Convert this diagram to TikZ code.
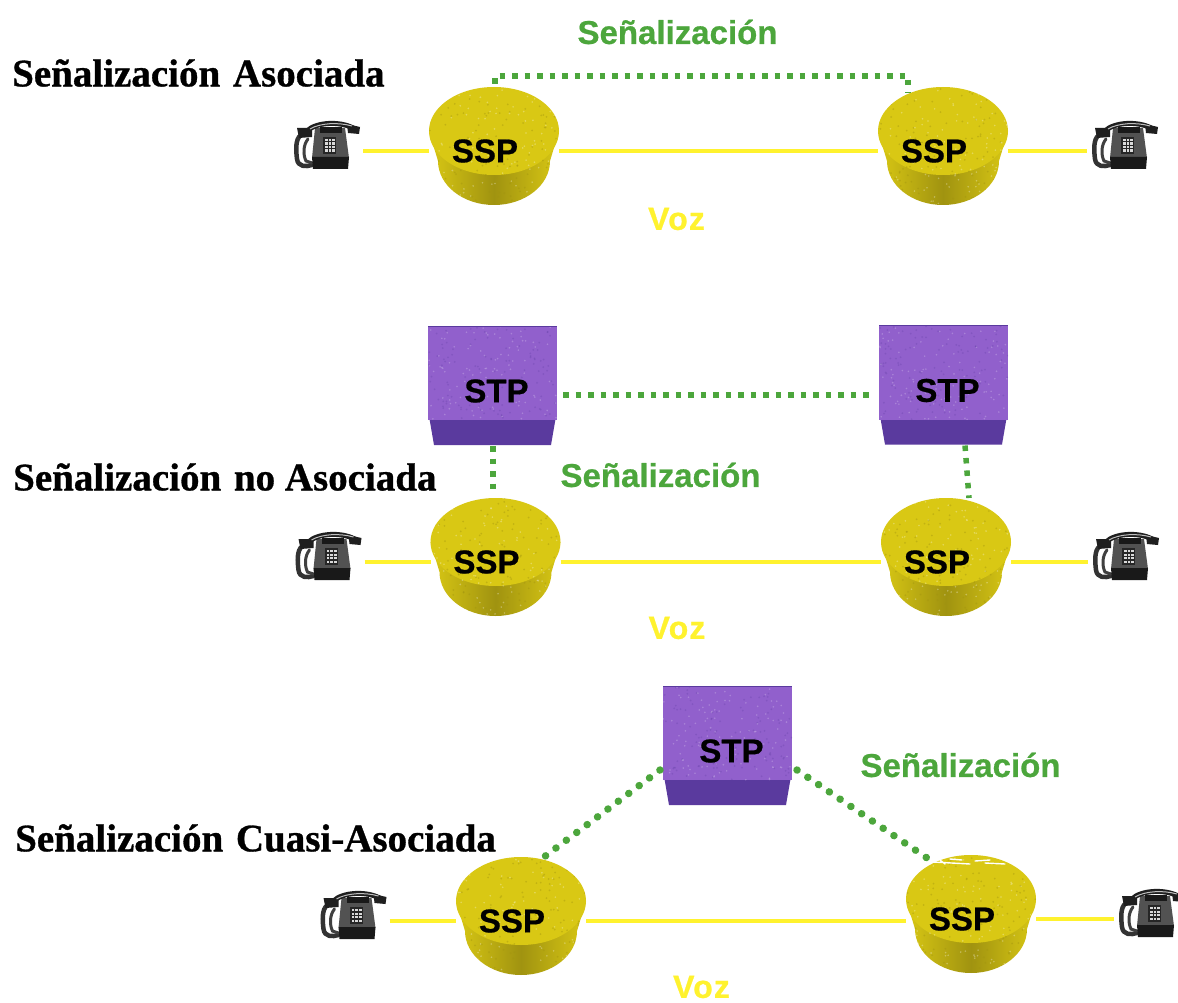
\documentclass[tikz,border=0pt]{standalone}
\usepackage{fontspec}
\setmainfont{Liberation Serif}[BoldFeatures={FakeBold=0.8}]
\setsansfont{Liberation Sans}[BoldFeatures={FakeBold=0.6}]
\newfontfamily\vozfont{Liberation Sans}[LetterSpace=3.5,BoldFeatures={FakeBold=0.8}]
\usetikzlibrary{calc}
\definecolor{sigGreen}{HTML}{4CA63C}
\definecolor{voiceY}{HTML}{FFF22E}
\definecolor{sspTop}{HTML}{D9C814}
\definecolor{sspDark}{HTML}{A09310}
\definecolor{stpFace}{HTML}{9160CC}
\definecolor{stpLow}{HTML}{5A3A9E}
\tikzset{
  x=1pt,y=-1pt,
  devtext/.style={font=\sffamily\bfseries\fontsize{33}{33}\selectfont,text=black,inner sep=0pt},
  title/.style={font=\rmfamily\bfseries\fontsize{39}{39}\selectfont,text=black,inner sep=0pt,anchor=west},
  siglabel/.style={font=\sffamily\bfseries\fontsize{33}{33}\selectfont,text=sigGreen,inner sep=0pt},
  voizlabel/.style={font=\vozfont\bfseries\fontsize{32}{32}\selectfont,text=voiceY,inner sep=0pt},
  voice/.style={draw=voiceY,line width=4pt},
  sig/.style={draw=sigGreen,line width=5.5pt,dash pattern=on 5.5pt off 7pt},
  sigdiag/.style={draw=sigGreen,line width=7.5pt,line cap=round,dash pattern=on 0.1pt off 12.9pt},
  anchorbox/.style={inner sep=0pt,outer sep=0pt,draw=none}
}
% name, x, line-y
\newcommand{\sspunit}[3]{%
  \begin{scope}[shift={(#2,#3)}]
    \path[left color=sspTop,right color=sspTop,middle color=sspDark]
      (-65,-20) -- (-56,10) arc[x radius=56,y radius=44,start angle=180,end angle=0] -- (65,-20) -- cycle;
    \fill[sspTop] (0,-20) ellipse[x radius=65,y radius=44];
    \begin{scope}
      \clip (-65,-20) -- (-56,10) arc[x radius=56,y radius=44,start angle=180,end angle=0] -- (65,-20) arc[x radius=65,y radius=44,start angle=0,end angle=-180] -- cycle;
      \foreach \k in {1,...,110}{
        \pgfmathsetmacro{\dx}{rnd*130-65}\pgfmathsetmacro{\dy}{rnd*118-64}
        \fill[white,opacity=0.3] (\dx,\dy) circle[radius=0.9];
        \pgfmathsetmacro{\ex}{rnd*130-65}\pgfmathsetmacro{\ey}{rnd*118-64}
        \fill[sspDark,opacity=0.4] (\ex,\ey) circle[radius=1];
      }
    \end{scope}
  \end{scope}
  \node[anchorbox,minimum width=130pt,minimum height=108pt] (#1) at (#2,#3) {};
  \node[devtext] (#1-t) at ($(#2,#3)+(-9,0)$) {SSP};
}
% name, x, center-y
\newcommand{\stpunit}[3]{%
  \begin{scope}[shift={(#2,#3)}]
    \fill[stpLow] (-63,24) -- (63,24) -- (58.5,50) -- (-58.5,50) -- cycle;
    \fill[stpFace] (-64.5,-69) rectangle (64.5,25);
    \begin{scope}
      \clip (-64.5,-69) rectangle (64.5,25);
      \foreach \k in {1,...,110}{
        \pgfmathsetmacro{\dx}{rnd*129-64.5}\pgfmathsetmacro{\dy}{rnd*94-69}
        \fill[white,opacity=0.22] (\dx,\dy) circle[radius=0.9];
        \pgfmathsetmacro{\ex}{rnd*129-64.5}\pgfmathsetmacro{\ey}{rnd*94-69}
        \fill[stpLow,opacity=0.25] (\ex,\ey) circle[radius=1];
      }
    \end{scope}
    \draw[stpLow,line width=1pt] (-64.5,-69) -- (64.5,-69);
  \end{scope}
  \node[anchorbox,minimum width=129pt,minimum height=100pt] (#1) at (#2,#3) {};
  \node[devtext] (#1-t) at ($(#2,#3)+(4,-4)$) {STP};
}
% name, x, line-y
\newcommand{\phoneunit}[3]{%
  \begin{scope}[shift={(#2,#3)}]
    % cord
    \draw[black!80,line width=4.5pt,line cap=round,line join=round]
      (-25,-16) .. controls (-31,-12) and (-30,0) .. (-29,8) .. controls (-28,16) and (-20,16) .. (-14,14);
    \draw[black!75,line width=3pt,line cap=round]
      (-18,-12) .. controls (-23,-6) and (-23,4) .. (-20,10) -- (-14,12);
    % body
    \fill[black!68] (-11,-23) -- (19,-23) -- (23,7) -- (-14,7) -- cycle;
    \fill[black!90] (-14,6) -- (23,6) -- (22,18) -- (-13,18) -- cycle;
    \fill[black!90] (-6,-24) rectangle (16,-18);
    % keypad
    \fill[black!85] (-3,-14) rectangle (10,3);
    \foreach \gx in {-1,2.7,6.4}{\foreach \gy in {-12,-8.5,-5,-1.5}{
      \fill[white!85!black] (\gx,\gy) rectangle ++(2.6,2.2);}}
    % handset
    \draw[black!88,line width=5pt,line cap=round] (-19,-20) .. controls (-10,-29) and (14,-30) .. (27,-23);
    \fill[black!88] (-29,-23) -- (-14,-23) -- (-14,-14) -- (-27,-13) -- cycle;
    \fill[black!88] (21,-27) -- (34,-24) -- (33,-17) -- (22,-18) -- cycle;
    \draw[black!25,line width=1pt] (-16,-22) .. controls (-6,-28) and (12,-29) .. (26,-25);
  \end{scope}
  \node[anchorbox,minimum width=74pt,minimum height=38pt] (#1) at (#2,#3) {};
}
\begin{document}
\begin{tikzpicture}
\useasboundingbox[fill=white] (0,0) rectangle (1178,1003);
\pgfmathsetseed{4711}

% --- row 1
\node[title] (t1) at (12,73) {Señalización\hspace{3pt} Asociada};
\phoneunit{p1a}{326}{151}
\phoneunit{p1b}{1124}{151}
\sspunit{s1a}{494}{151}
\sspunit{s1b}{943}{151}
\draw[voice] (p1a.east) -- (s1a.west);
\draw[voice] (s1a.east) -- (s1b.west);
\draw[voice] (s1b.east) -- (p1b.west);
\draw[sig] ([xshift=1pt,yshift=13pt]s1a.north) -- ++(0,-8) -| ([xshift=-35pt,yshift=4pt]s1b.north);
\node[siglabel] (l1) at (677.5,32) {Señalización};
\node[voizlabel] (v1) at (676.5,219) {Voz};

% --- row 2
\node[title] (t2) at (13,477) {Señalización\hspace{3pt} no Asociada};
\stpunit{b2a}{492.5}{395}
\stpunit{b2b}{943.5}{394.5}
\phoneunit{p2a}{327.5}{562}
\phoneunit{p2b}{1125}{562}
\sspunit{s2a}{495.5}{562}
\sspunit{s2b}{946}{562}
\draw[voice] (p2a.east) -- (s2a.west);
\draw[voice] (s2a.east) -- (s2b.west);
\draw[voice] (s2b.east) -- (p2b.west);
\draw[sig] ([xshift=6pt]b2a.east) -- ([xshift=-4pt]b2a.east -| b2b.west);
\draw[sig] ([xshift=0.5pt,yshift=-1pt]b2a.south) -- ([xshift=-2.5pt,yshift=18pt]s2a.north);
\draw[sig] ([xshift=21.5pt,yshift=-1pt]b2b.south) -- ([xshift=23pt,yshift=10pt]s2b.north);
\node[siglabel] (l2) at (660.5,475) {Señalización};
\node[voizlabel] (v2) at (677,628) {Voz};

% --- row 3
\node[title] (t3) at (15,838) {Señalización\hspace{3pt} Cuasi-Asociada};
\stpunit{b3}{727.5}{755}
\phoneunit{p3a}{352.5}{921}
\phoneunit{p3b}{1151}{919}
\sspunit{s3a}{521}{921}
\sspunit{s3b}{971}{919}
\draw[voice] (p3a.east) -- (s3a.west);
\draw[voice] (s3a.east) -- (s3b.west |- s3a.west);
\draw[voice] (s3b.east) -- (p3b.west);
\draw[sigdiag] ([xshift=-3pt,yshift=-15pt]b3.west) -- ([xshift=19pt,yshift=7pt]s3a.north);
\draw[sigdiag] ([xshift=5pt,yshift=-15pt]b3.east) -- ([xshift=-41pt,yshift=5pt]s3b.north);
% white flaws at the top edge of the last SSP
\draw[white,line width=1.4pt,line cap=round] (933,862) -- (970,864) (985,863) -- (1005,864) (950,859) -- (962,860) (975,861) -- (990,860) (940,860) -- (945,864);
\node[siglabel] (l3) at (960.5,765) {Señalización};
\node[voizlabel] (v3) at (701.5,987) {Voz};
\end{tikzpicture}
\end{document}
